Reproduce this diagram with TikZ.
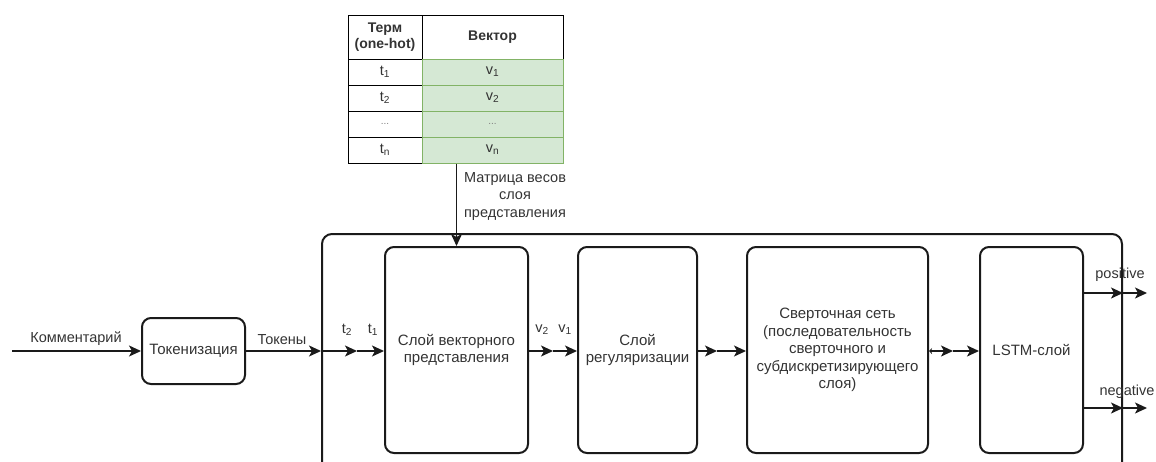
\documentclass[tikz,border=0pt]{standalone}
\usepackage{fontspec}
\setmainfont{Liberation Sans}
\usetikzlibrary{arrows.meta}
\definecolor{cellgreen}{HTML}{D5E8D4}
\definecolor{cellline}{HTML}{82B366}
\definecolor{ink}{HTML}{1A1A1A}
\definecolor{txt}{HTML}{333333}

\begin{document}
\begin{tikzpicture}[x=1pt,y=-1pt,
  font=\fontsize{14.5}{17.5}\selectfont,
  blk/.style={draw=ink, line width=2pt, rounded corners=9pt, align=center, inner sep=2pt, text=txt, font=\fontsize{15}{17.5}\selectfont},
  conn/.style={draw=ink, line width=1.4pt, -{Stealth[length=12pt,width=11pt,inset=3pt]}},
  lbl/.style={inner sep=0pt, text=txt},
  cellL/.style={draw=black, line width=1pt, minimum width=74pt, minimum height=26pt, inner sep=0pt, text=txt},
  cellR/.style={draw=cellline, fill=cellgreen, line width=1pt, minimum width=141pt, minimum height=26pt, inner sep=0pt, text=txt},
  dots/.style={text=gray, font=\fontsize{10}{12}\selectfont},
]
\useasboundingbox (0,0) rectangle (1156,461);
\clip (0,0) rectangle (1156,461);

% weight matrix of the embedding layer
\node[cellL, minimum height=44pt, align=center, font=\fontsize{14}{16}\selectfont\bfseries] (hT) at (385,37) {Терм\\(one-hot)};
\node[cellL, minimum width=141pt, minimum height=44pt, font=\fontsize{14}{16}\selectfont\bfseries] (hV) at (492.5,37) {Вектор};
\node[cellL] (t1) at (385,72) {t\textsubscript{1}};
\node[cellL] (t2) at (385,98) {t\textsubscript{2}};
\node[cellL, dots] (td) at (385,124) {...};
\node[cellL] (tn) at (385,150) {t\textsubscript{n}};
\node[cellR] (v1) at (492.5,72) {v\textsubscript{1}};
\node[cellR] (v2) at (492.5,98) {v\textsubscript{2}};
\node[cellR, dots] (vd) at (492.5,124) {...};
\node[cellR] (vn) at (492.5,150) {v\textsubscript{n}};

% network container
\node[draw=ink, line width=2pt, rounded corners=10pt, minimum width=800pt, minimum height=260pt, inner sep=0pt] (net) at (722,364) {};

% processing blocks
\node[blk, minimum width=103pt, minimum height=66pt] (tok) at (193.5,351) {Токенизация};
\node[blk, minimum width=143pt, minimum height=206pt] (emb) at (456.5,350) {Слой векторного\\представления};
\node[blk, minimum width=119pt, minimum height=206pt] (reg) at (637.5,350) {Слой\\регуляризации};
\node[blk, minimum width=181pt, minimum height=206pt] (conv) at (837.5,350) {Сверточная сеть\\(последовательность\\сверточного и\\субдискретизирующего\\слоя)};
\node[blk, minimum width=103pt, minimum height=206pt] (lstm) at (1031.5,350) {LSTM-слой};

% input
\coordinate (src) at (12,351);
\draw[conn] (src) -- (tok.west);
\node[lbl] (lcom) at (76,339) {Комментарий};

% tokens into the network
\coordinate (cin) at (net.west |- tok.east);
\draw[conn] (tok.east) -- (cin);
\node[lbl] (ltok) at (282,340) {Токены};
\coordinate (tmid) at (357,351);
\draw[conn] (cin) -- (tmid);
\draw[conn] (tmid) -- (emb.west |- tmid);
\node[lbl] (lt2) at (347,330) {t\textsubscript{2}};
\node[lbl] (lt1) at (373,330) {t\textsubscript{1}};

% weights into the embedding layer
\draw[conn] (emb.north |- vn.south) -- (emb.north);
\node[lbl, align=center, anchor=north] (lmat) at (515,172) {Матрица весов\\слоя\\представления};

% embedding -> regularisation
\coordinate (vmid) at (553,351);
\draw[conn] (emb.east |- vmid) -- (vmid);
\draw[conn] (vmid) -- (reg.west |- vmid);
\node[lbl] (lv2) at (542,330) {v\textsubscript{2}};
\node[lbl] (lv1) at (565,330) {v\textsubscript{1}};

% regularisation -> convolution
\coordinate (rmid) at (717,351);
\draw[conn] (reg.east |- rmid) -- (rmid);
\draw[conn] (rmid) -- (conv.west |- rmid);

% convolution -> LSTM
\coordinate (cmid) at (953,351);
\draw[conn, {Stealth[length=3pt,width=6pt,inset=1pt]}-{Stealth[length=12pt,width=11pt,inset=3pt]}] (conv.east |- cmid) -- (cmid);
\draw[conn] (cmid) -- (lstm.west |- cmid);

% outputs
\coordinate (pa) at (lstm.east |- 0,293);
\coordinate (pb) at (net.east |- pa);
\coordinate (pc) at (1147,293);
\draw[conn] (pa) -- (pb);
\draw[conn] (pb) -- (pc);
\node[lbl] (lpos) at (1120,275) {positive};

\coordinate (na) at (lstm.east |- 0,408);
\coordinate (nb) at (net.east |- na);
\coordinate (nc) at (1147,408);
\draw[conn] (na) -- (nb);
\draw[conn] (nb) -- (nc);
\node[lbl] (lneg) at (1127,392) {negative};
\end{tikzpicture}
\end{document}
